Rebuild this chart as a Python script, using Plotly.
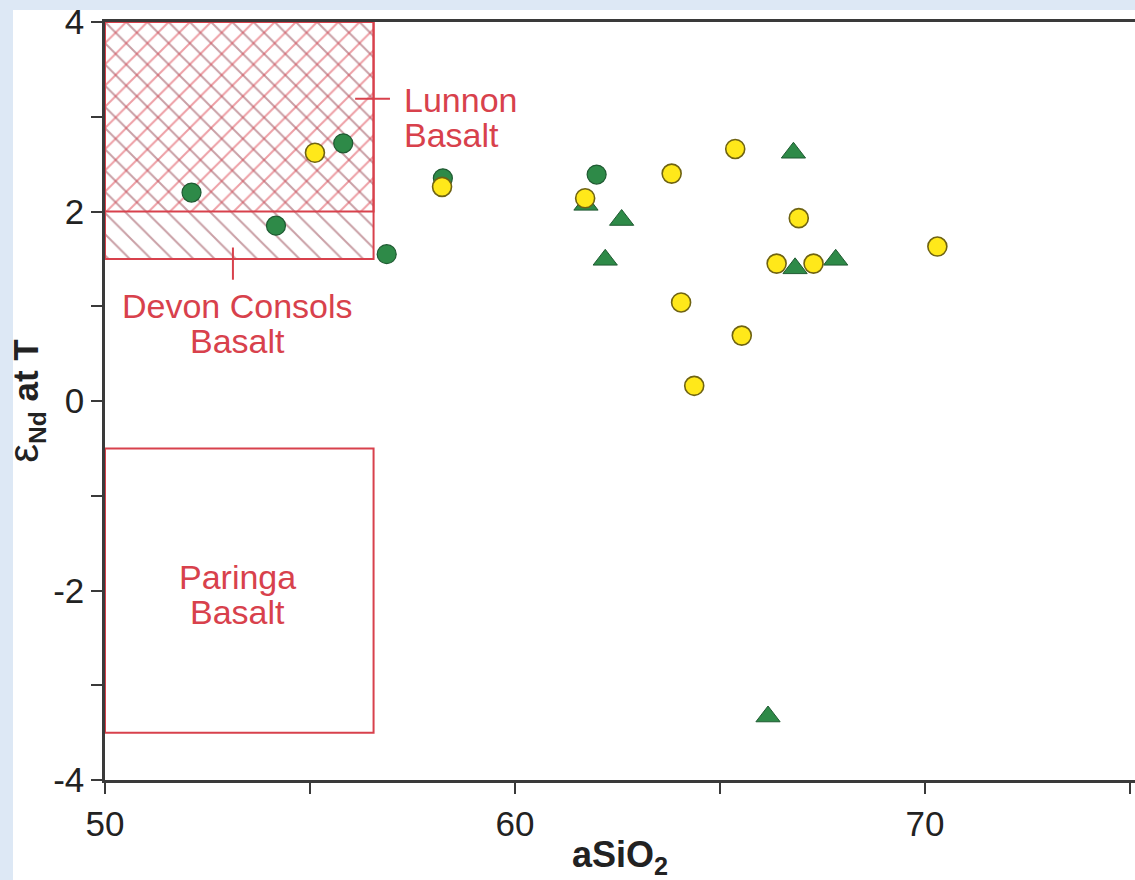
import plotly.graph_objects as go

# ---- sample data: aSiO2 (wt%) vs epsilon-Nd at T ----
green_circle_x = [52.11, 54.17, 55.81, 56.87, 58.24, 61.99]
green_circle_y = [2.20, 1.85, 2.72, 1.55, 2.35, 2.39]

yellow_circle_x = [55.12, 58.22, 61.71, 63.82, 65.37, 66.92, 66.38, 67.28, 70.30, 64.05, 65.53, 64.37]
yellow_circle_y = [2.62, 2.26, 2.14, 2.40, 2.66, 1.93, 1.45, 1.45, 1.63, 1.04, 0.69, 0.16]

green_triangle_x = [61.73, 62.60, 62.20, 66.79, 66.83, 67.82, 66.17]
green_triangle_y = [2.07, 1.91, 1.49, 2.62, 1.40, 1.49, -3.33]

# ---- basalt reference fields (x extent shared, y extents per field) ----
field_x = [50.0, 56.55]
devon_y = [1.5, 4.0]
lunnon_y = [2.0, 4.0]
paringa_y = [-3.5, -0.5]

# ---- axes ----
x_range = [50, 75.12]
y_range = [-4, 4]
x_tickvals = [50, 60, 70]
x_ticktext = ["50", "60", "70"]
x_minor_tickvals = [55, 65, 75]
y_tickvals = [-4, -2, 0, 2, 4]
y_ticktext = ["-4", "-2", "0", "2", "4"]
y_minor_tickvals = [-3, -1, 1, 3]
x_title = "<b>aSiO<sub>2</sub></b>"
y_title = ("<b><span style=\"font-size:42px;font-weight:normal\">\u03b5</span>"
           "<sub>Nd</sub> at T</b>")

RED = "#d8414c"
RED_DARK = "#94404c"
RED_HATCH = "#dc3f4c"
GREEN = "#2e8a48"
GREEN_EDGE = "#1f5a32"
YELLOW = "#ffe81a"
YELLOW_EDGE = "#6f6312"
AXIS = "#3a3a3a"
FONT = "Liberation Sans, Arial, sans-serif"

W, H = 1135, 880
ML, MR, MT, MB = 105, 0, 22, 100
PW, PH = W - ML - MR, H - MT - MB


def px_x(p):
    return (p - ML) / PW


def px_y(q):
    return (H - MB - q) / PH


def rect(xs, ys):
    return ([xs[0], xs[1], xs[1], xs[0], xs[0]],
            [ys[0], ys[0], ys[1], ys[1], ys[0]])


fig = go.Figure()

# Devon Consols field: single "\" hatch
dx, dy = rect(field_x, devon_y)
fig.add_trace(go.Scatter(
    x=dx, y=dy, mode="lines", fill="toself",
    line=dict(color=RED, width=2),
    fillpattern=dict(shape="\\", size=15, solidity=0.13,
                     fgcolor=RED_DARK, bgcolor="rgba(0,0,0,0)"),
    fillcolor="rgba(0,0,0,0)", hoverinfo="skip", showlegend=False))

# Lunnon field: "/" hatch, crossing the Devon hatch above 2
lx, ly = rect(field_x, lunnon_y)
fig.add_trace(go.Scatter(
    x=lx, y=ly, mode="lines", fill="toself",
    line=dict(color=RED, width=2),
    fillpattern=dict(shape="/", size=15, solidity=0.13,
                     fgcolor=RED_HATCH, bgcolor="rgba(0,0,0,0)"),
    fillcolor="rgba(0,0,0,0)", hoverinfo="skip", showlegend=False))

# Paringa field: outline only
px_, py_ = rect(field_x, paringa_y)
fig.add_trace(go.Scatter(
    x=px_, y=py_, mode="lines", line=dict(color=RED, width=2),
    hoverinfo="skip", showlegend=False))

# label leader ticks
lunnon_leader_x = [56.10, 56.95]
lunnon_leader_y = [3.19, 3.19]
devon_leader_x = [53.12, 53.12]
devon_leader_y = [1.62, 1.28]
for lxs, lys in [(lunnon_leader_x, lunnon_leader_y), (devon_leader_x, devon_leader_y)]:
    fig.add_trace(go.Scatter(x=lxs, y=lys, mode="lines",
                             line=dict(color=RED, width=2),
                             hoverinfo="skip", showlegend=False))

# samples
fig.add_trace(go.Scatter(
    x=green_triangle_x, y=green_triangle_y, mode="markers",
    marker=dict(symbol="triangle-up", size=21, color=GREEN,
                line=dict(color=GREEN_EDGE, width=1)),
    showlegend=False))
fig.add_trace(go.Scatter(
    x=green_circle_x, y=green_circle_y, mode="markers",
    marker=dict(symbol="circle", size=19, color=GREEN,
                line=dict(color=GREEN_EDGE, width=1.2)),
    showlegend=False))
fig.add_trace(go.Scatter(
    x=yellow_circle_x, y=yellow_circle_y, mode="markers",
    marker=dict(symbol="circle", size=19, color=YELLOW,
                line=dict(color=YELLOW_EDGE, width=1.6)),
    showlegend=False))

# field labels
labels = [
    ("Lunnon", 57.24, 3.18, "left"),
    ("Basalt", 57.24, 2.81, "left"),
    ("Devon Consols", 53.24, 1.00, "center"),
    ("Basalt", 53.24, 0.63, "center"),
    ("Paringa", 53.23, -1.86, "center"),
    ("Basalt", 53.23, -2.23, "center"),
]
for text, x, y, anchor in labels:
    fig.add_annotation(x=x, y=y, xref="x", yref="y", text=text,
                       showarrow=False, xanchor=anchor, yanchor="middle",
                       font=dict(family=FONT, size=34, color=RED))

# light blue frame strips at the left and top edges
BLUE = "#dde8f5"
fig.add_shape(type="rect", xref="paper", yref="paper",
              x0=px_x(0), x1=px_x(13), y0=px_y(H), y1=px_y(0),
              fillcolor=BLUE, line=dict(width=0), layer="below")
fig.add_shape(type="rect", xref="paper", yref="paper",
              x0=px_x(0), x1=px_x(W), y0=px_y(10), y1=px_y(0),
              fillcolor=BLUE, line=dict(width=0), layer="below")

axis_common = dict(
    showgrid=False, zeroline=False, showline=True, linecolor=AXIS,
    ticks="outside", ticklen=11, tickwidth=2, tickcolor=AXIS,
    tickfont=dict(family=FONT, size=35, color="#222"),
)
fig.update_xaxes(range=x_range, tickmode="array", tickvals=x_tickvals,
                 ticktext=x_ticktext, mirror=True, linewidth=3,
                 minor=dict(tickmode="array", tickvals=x_minor_tickvals,
                            ticks="outside", ticklen=11, tickwidth=2,
                            tickcolor=AXIS, showgrid=False),
                 title=dict(text=x_title, standoff=4,
                            font=dict(family=FONT, size=36, color="#222")),
                 **axis_common)
fig.update_yaxes(range=y_range, tickmode="array", tickvals=y_tickvals,
                 ticktext=y_ticktext, mirror=False, linewidth=2.5,
                 minor=dict(tickmode="array", tickvals=y_minor_tickvals,
                            ticks="outside", ticklen=11, tickwidth=2,
                            tickcolor=AXIS, showgrid=False),
                 title=dict(text=y_title, standoff=4,
                            font=dict(family=FONT, size=35, color="#222")),
                 **axis_common)

fig.update_layout(
    width=W, height=H, autosize=False,
    margin=dict(l=ML, r=MR, t=MT, b=MB, autoexpand=False),
    paper_bgcolor="white", plot_bgcolor="white",
    showlegend=False,
)

fig.write_html("out.html", config={"displayModeBar": False})
